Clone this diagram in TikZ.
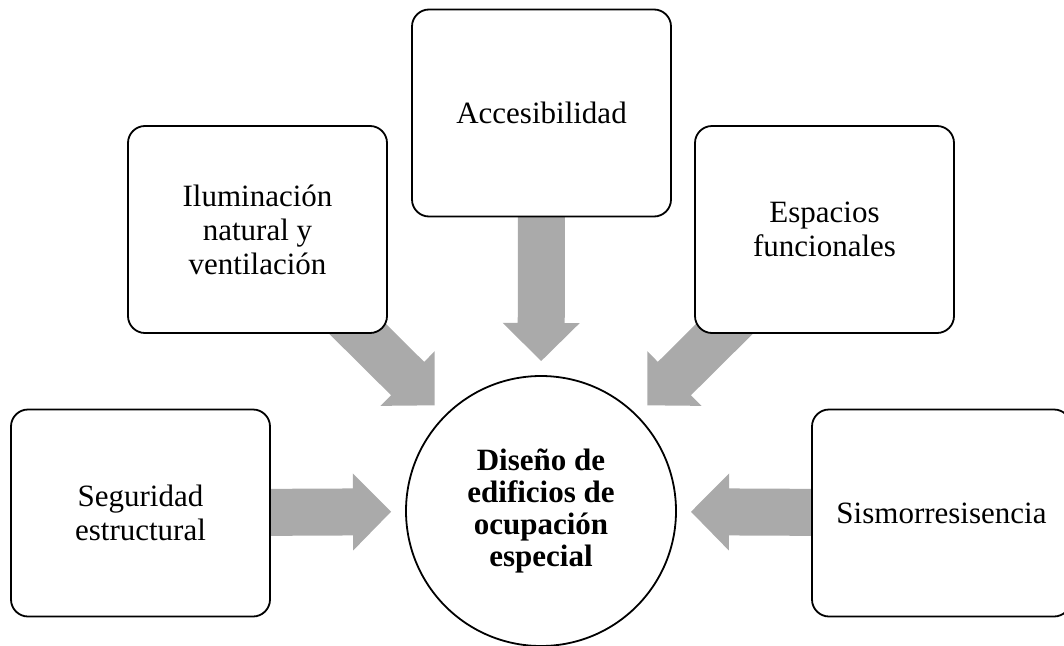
\documentclass[tikz,border=0pt]{standalone}
\usepackage{fontspec}
\setmainfont{Liberation Serif}
\usetikzlibrary{calc,backgrounds}
\definecolor{arrowgray}{RGB}{170,170,170}
\tikzset{
  box/.style={draw, line width=1.8pt, rounded corners=17pt, fill=white,
    minimum width=259pt, minimum height=207pt, align=center, inner sep=0pt,
    font=\fontsize{31}{34}\selectfont},
  ring/.style={draw, circle, line width=1.8pt, fill=white, minimum size=270pt,
    align=center, inner sep=0pt, font=\fontsize{31}{32}\selectfont\bfseries}
}
% fat grey arrow from box #1 towards the circle
\newcommand{\feed}[1]{%
  \coordinate (tip) at ($(dis.center)!150pt!(#1.center)$);
  \coordinate (hb) at ($(tip)!38pt!(#1.center)$);
  \fill[arrowgray] ($(#1.center)!23.5pt!90:(tip)$) -- ($(hb)!23.5pt!90:(tip)$) --
    ($(hb)!38.5pt!90:(tip)$) -- (tip) -- ($(hb)!38.5pt!-90:(tip)$) --
    ($(hb)!23.5pt!-90:(tip)$) -- ($(#1.center)!23.5pt!-90:(tip)$) -- cycle;}

\begin{document}
\begin{tikzpicture}[x=1pt,y=-1pt]
   \useasboundingbox (0,0) rectangle (1064,645);
   \node[ring] (dis) at (541,511) {Diseño de\\edificios de\\ocupación\\especial};
   \node[box] (seg) at (140.5,513) {Seguridad\\estructural};
   \node[box] (ilu) at (257.5,229.5) {Iluminación\\natural y\\ventilación};
   \node[box] (acc) at (541.5,113) {Accesibilidad};
   \node[box] (esp) at (824.5,229.5) {Espacios\\funcionales};
   \node[box] (sis) at (941.5,513) {Sismorresisencia};
   \begin{scope}[on background layer]
     \foreach \b in {seg,ilu,acc,esp,sis} {\feed{\b}}
   \end{scope}
\end{tikzpicture}
\end{document}
